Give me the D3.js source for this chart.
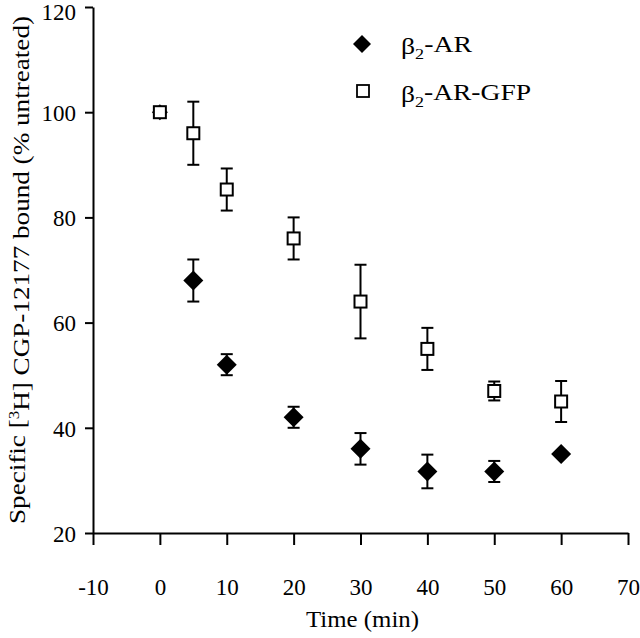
<!DOCTYPE html>
<html>
<head>
<meta charset="utf-8">
<script src="https://cdn.jsdelivr.net/npm/d3@7"></script>
<style>
  html, body { margin: 0; padding: 0; background: #fff; }
  svg { display: block; }
  text { font-family: "Liberation Serif", "Times New Roman", serif; fill: #000; }
</style>
</head>
<body>
<svg id="chart" width="640" height="638"></svg>
<script>
// ---- data ----
const arTime  = [0, 5, 10, 20, 30, 40, 50, 60];
const arValue = [100, 68, 52, 42, 36, 31.7, 31.7, 35];
const arErr   = [0, 4, 2, 2, 3, 3.2, 2, 0];

const gfpTime  = [0, 5, 10, 20, 30, 40, 50, 60];
const gfpValue = [100, 96, 85.3, 76, 64, 55, 47, 45];
const gfpErr   = [1, 6, 4, 4, 7, 4, 1.8, 3.9];

const xTicks = [-10, 0, 10, 20, 30, 40, 50, 60, 70];
const yTicks = [20, 40, 60, 80, 100, 120];
const seriesNames = ["β2-AR", "β2-AR-GFP"];

// ---- layout ----
const svg = d3.select("#chart");
const x = d3.scaleLinear().domain([-10, 70]).range([93, 628]);
const y = d3.scaleLinear().domain([20, 120]).range([533, 7]);

const fmt = d => String(d); // plain hyphen-minus like the reference

// axes
const xAxis = d3.axisBottom(x).tickValues(xTicks).tickFormat(fmt).tickSize(12).tickSizeOuter(0).tickPadding(50);
const yAxis = d3.axisLeft(y).tickValues(yTicks).tickFormat(fmt).tickSize(8).tickSizeOuter(0).tickPadding(9);

const gx = svg.append("g").attr("transform", `translate(0,${y(20)})`).call(xAxis);
const gy = svg.append("g").attr("transform", `translate(${x(-10)},0)`).call(yAxis);
[gx, gy].forEach(g => {
  g.select(".domain").attr("stroke", "#000").attr("stroke-width", 2);
  g.selectAll(".tick line").attr("stroke", "#000").attr("stroke-width", 2);
  g.selectAll(".tick text").style("font-family", '"Liberation Serif", serif').style("font-size", "23px").attr("fill", "#000");
});
gx.selectAll(".tick text").attr("dy", "0");
gy.selectAll(".tick text").attr("dy", d => d === 120 ? "0.55em" : "0.36em");

// axis titles
svg.append("text")
  .attr("x", x(30) + 2).attr("y", 627)
  .attr("text-anchor", "middle").style("font-size", "23px")
  .attr("textLength", 113).attr("lengthAdjust", "spacingAndGlyphs")
  .text("Time (min)");

const yl = svg.append("text")
  .attr("transform", `translate(25,${(y(20) + y(120)) / 2}) rotate(-90)`)
  .attr("text-anchor", "middle").style("font-size", "24px")
  .attr("textLength", 508).attr("lengthAdjust", "spacingAndGlyphs");
yl.append("tspan").text("Specific [");
yl.append("tspan").attr("dy", "-0.4em").style("font-size", "15px").text("3");
yl.append("tspan").attr("dy", "0.4em").text("H] CGP-12177 bound (% untreated)");

// marker helpers
function diamondPath(cx, cy, r) {
  return `M${cx},${cy - r}L${cx + r},${cy}L${cx},${cy + r}L${cx - r},${cy}Z`;
}
function errBars(g, times, vals, errs) {
  times.forEach((t, i) => {
    if (!errs[i]) return;
    const cx = x(t), y1 = y(vals[i] + errs[i]), y2 = y(vals[i] - errs[i]);
    g.append("line").attr("x1", cx).attr("x2", cx).attr("y1", y1).attr("y2", y2)
      .attr("stroke", "#000").attr("stroke-width", 2);
    [y1, y2].forEach(yy => g.append("line").attr("x1", cx - 6).attr("x2", cx + 6)
      .attr("y1", yy).attr("y2", yy).attr("stroke", "#000").attr("stroke-width", 2));
  });
}

const gAR = svg.append("g");
errBars(gAR, arTime, arValue, arErr);
gAR.selectAll("path").data(arTime).join("path")
  .attr("d", (t, i) => diamondPath(x(t), y(arValue[i]), t === 0 ? 8 : 10))
  .attr("fill", "#000");

const gG = svg.append("g");
errBars(gG, gfpTime, gfpValue, gfpErr);
gG.selectAll("rect").data(gfpTime).join("rect")
  .attr("x", t => x(t) - 6).attr("y", (t, i) => y(gfpValue[i]) - 6)
  .attr("width", 12).attr("height", 12)
  .attr("fill", "#fff").attr("stroke", "#000").attr("stroke-width", 2);

// legend
const lg = svg.append("g");
lg.append("path").attr("d", diamondPath(362, 44, 9)).attr("fill", "#000");
lg.append("rect").attr("x", 357).attr("y", 85).attr("width", 12).attr("height", 12)
  .attr("fill", "#fff").attr("stroke", "#000").attr("stroke-width", 1.8);
[[seriesNames[0], 54, 71], [seriesNames[1], 102, 130]].forEach(([name, by, len]) => {
  const t = lg.append("text").attr("x", 401).attr("y", by).style("font-size", "23px")
    .attr("textLength", len).attr("lengthAdjust", "spacingAndGlyphs");
  t.append("tspan").text("β");
  t.append("tspan").attr("dy", "0.3em").style("font-size", "15px").text("2");
  t.append("tspan").attr("dy", "-0.3em").text(name.slice(2));
});
</script>
</body>
</html>
